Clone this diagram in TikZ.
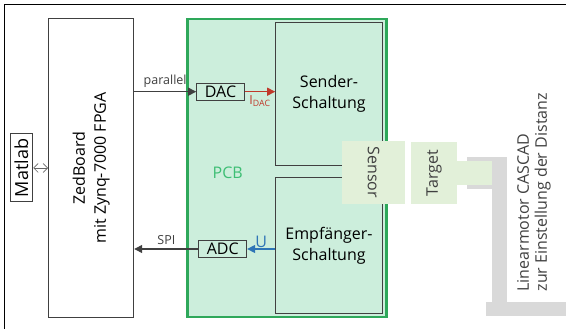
\documentclass[tikz,border=0pt]{standalone}
\usepackage{fontspec}
\setmainfont{Open Sans}
\usetikzlibrary{arrows.meta, calc}
\definecolor{pcbgreen}{HTML}{2EA85A}
\definecolor{pcbtext}{HTML}{3DBE74}
\definecolor{pcbfill}{HTML}{CCEEDC}
\definecolor{sensfill}{HTML}{E2F0D9}
\definecolor{halter}{HTML}{D9D9D9}
\definecolor{idacrot}{HTML}{C0392B}
\definecolor{ublau}{HTML}{2E75B6}
\definecolor{rahmen}{HTML}{404040}

\begin{document}
\begin{tikzpicture}[x=1pt, y=-1pt,
  block/.style={draw=rahmen, line width=1pt, inner sep=0pt},
  big/.style={font=\fontsize{16}{21}\selectfont},
  small/.style={font=\fontsize{12.5}{14}\selectfont},
  sig/.style={draw=rahmen, line width=1.3pt, -{Triangle[length=8pt,width=8pt]}},
  ]
\useasboundingbox (0,0) rectangle (566,329);

%------------------------------------------------
% Rahmen
%------------------------------------------------
\draw[line width=1pt] (566,4.7) -- (4.7,4.7) -- (4.7,329);

%------------------------------------------------
% ZedBoard und Matlab
%------------------------------------------------
\node[block, minimum width=85pt, minimum height=298pt] (zed) at (91.2,168) {};
\node[big, rotate=90, align=center] (zedtext) at (zed) {ZedBoard\\mit Zynq-7000 FPGA};

\node[block, minimum width=22.7pt, minimum height=68pt] (matlab) at (21.4,168) {};
\node[font=\fontsize{18}{20}\selectfont, rotate=90] (matlabtext) at (matlab) {Matlab};

\draw[gray!80!black, line width=0.7pt, {Straight Barb[length=4.5pt,width=9pt]}-{Straight Barb[length=4.5pt,width=9pt]}] (matlab.east) -- (zed.west);

%------------------------------------------------
% PCB mit Sender, Empfaenger, DAC und ADC
%------------------------------------------------
\node[draw=pcbgreen, line width=2.5pt, fill=pcbfill, minimum width=199pt, minimum height=298pt, inner sep=0pt] (pcb) at (287.2,168) {};
\node[big, text=pcbtext] (pcblabel) at (227.7,172.3) {PCB};

\node[block, fill=pcbfill, minimum width=106.6pt, minimum height=143.3pt, big, align=center] (sender) at (329,94.3) {Sender-\\Schaltung};
\node[block, fill=pcbfill, minimum width=106.6pt, minimum height=135.6pt, big, align=center] (empf) at (329,245.5) {Empfänger-\\Schaltung};

\node[block, big, minimum width=47.6pt, minimum height=16.7pt] (dac) at (220.5,91.7) {DAC};
\node[block, big, minimum width=47.7pt, minimum height=16.6pt] (adc) at (222.8,249) {ADC};

% Signale
\draw[sig] (zed.east |- dac.west) -- node[small, above, text=rahmen] (lparallel) {parallel} (dac.west);
\draw[sig, draw=idacrot] (dac.east) -- node[small, below, text=idacrot] (lidac) {I\textsubscript{DAC}} (sender.west |- dac.east);
\draw[sig, draw=ublau] (empf.west |- adc.east) -- node[big, above, text=ublau, inner sep=1pt] (lu) {U} (adc.east);
\draw[sig] (adc.west) -- node[small, above, text=rahmen] (lspi) {SPI} (zed.east |- adc.west);

%------------------------------------------------
% Sensor, Target und Linearmotor
%------------------------------------------------
\node[fill=sensfill, minimum width=62.7pt, minimum height=63.3pt, inner sep=0pt] (sensor) at (373.7,172.4) {};
\node[big, rotate=-90, text=rahmen] (sensortext) at (sensor) {Sensor};

% Halter
\fill[halter] (466.7,156.7) rectangle (506.7,189.3);
\fill[halter] (491.7,156.7) rectangle (506.7,301.7);
\fill[halter] (486,301.7) rectangle (566,315.7);
\fill[sensfill] (457.3,160.7) rectangle (491.7,185);

\node[fill=sensfill, minimum width=46.6pt, minimum height=62.3pt, inner sep=0pt] (target) at (434,172.9) {};
\node[big, rotate=90, text=rahmen] (targettext) at (target) {Target};

\node[font=\fontsize{16}{18}\selectfont, rotate=90, align=left, anchor=west, text=rahmen] (motor) at (534,295) {Linearmotor CASCAD\\zur Einstellung der Distanz};
\end{tikzpicture}
\end{document}
